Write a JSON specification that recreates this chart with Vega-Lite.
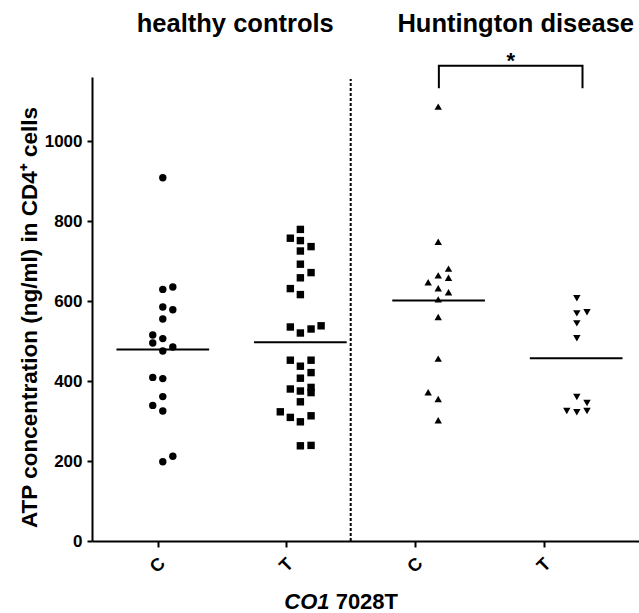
{
  "$schema": "https://vega.github.io/schema/vega-lite/v6.json",
  "width": 547,
  "height": 464,
  "autosize": {"type": "none"},
  "padding": {"left": 92, "top": 77, "right": 0, "bottom": 72},
  "background": "white",
  "config": {"view": {"stroke": null}, "font": "Liberation Sans"},
  "datasets": {
    "points": [
      {"key": "HC-C", "x": 1.040, "value": 908},
      {"key": "HC-C", "x": 1.040, "value": 629},
      {"key": "HC-C", "x": 1.118, "value": 635},
      {"key": "HC-C", "x": 1.040, "value": 585},
      {"key": "HC-C", "x": 1.118, "value": 578},
      {"key": "HC-C", "x": 1.040, "value": 555},
      {"key": "HC-C", "x": 0.962, "value": 515},
      {"key": "HC-C", "x": 1.040, "value": 506},
      {"key": "HC-C", "x": 0.962, "value": 495},
      {"key": "HC-C", "x": 1.040, "value": 475},
      {"key": "HC-C", "x": 1.118, "value": 485},
      {"key": "HC-C", "x": 0.962, "value": 409},
      {"key": "HC-C", "x": 1.040, "value": 406},
      {"key": "HC-C", "x": 1.040, "value": 361},
      {"key": "HC-C", "x": 0.962, "value": 339},
      {"key": "HC-C", "x": 1.040, "value": 325},
      {"key": "HC-C", "x": 1.040, "value": 198},
      {"key": "HC-C", "x": 1.118, "value": 212},
      {"key": "HC-T", "x": 2.109, "value": 779},
      {"key": "HC-T", "x": 2.031, "value": 757},
      {"key": "HC-T", "x": 2.109, "value": 751},
      {"key": "HC-T", "x": 2.109, "value": 725},
      {"key": "HC-T", "x": 2.192, "value": 736},
      {"key": "HC-T", "x": 2.109, "value": 692},
      {"key": "HC-T", "x": 2.109, "value": 658},
      {"key": "HC-T", "x": 2.192, "value": 671},
      {"key": "HC-T", "x": 2.031, "value": 631},
      {"key": "HC-T", "x": 2.109, "value": 616},
      {"key": "HC-T", "x": 2.031, "value": 535},
      {"key": "HC-T", "x": 2.109, "value": 520},
      {"key": "HC-T", "x": 2.192, "value": 530},
      {"key": "HC-T", "x": 2.270, "value": 538},
      {"key": "HC-T", "x": 2.031, "value": 452},
      {"key": "HC-T", "x": 2.109, "value": 437},
      {"key": "HC-T", "x": 2.192, "value": 452},
      {"key": "HC-T", "x": 2.109, "value": 407},
      {"key": "HC-T", "x": 2.192, "value": 421},
      {"key": "HC-T", "x": 2.031, "value": 380},
      {"key": "HC-T", "x": 2.109, "value": 375},
      {"key": "HC-T", "x": 2.192, "value": 384},
      {"key": "HC-T", "x": 2.192, "value": 371},
      {"key": "HC-T", "x": 2.109, "value": 348},
      {"key": "HC-T", "x": 1.953, "value": 323},
      {"key": "HC-T", "x": 2.031, "value": 309},
      {"key": "HC-T", "x": 2.109, "value": 298},
      {"key": "HC-T", "x": 2.192, "value": 313},
      {"key": "HC-T", "x": 2.109, "value": 238},
      {"key": "HC-T", "x": 2.192, "value": 239},
      {"key": "HD-C", "x": 3.180, "value": 1086},
      {"key": "HD-C", "x": 3.180, "value": 748},
      {"key": "HD-C", "x": 3.260, "value": 681},
      {"key": "HD-C", "x": 3.180, "value": 664},
      {"key": "HD-C", "x": 3.260, "value": 658},
      {"key": "HD-C", "x": 3.102, "value": 647},
      {"key": "HD-C", "x": 3.180, "value": 632},
      {"key": "HD-C", "x": 3.260, "value": 622},
      {"key": "HD-C", "x": 3.180, "value": 604},
      {"key": "HD-C", "x": 3.180, "value": 560},
      {"key": "HD-C", "x": 3.180, "value": 456},
      {"key": "HD-C", "x": 3.102, "value": 372},
      {"key": "HD-C", "x": 3.180, "value": 355},
      {"key": "HD-C", "x": 3.180, "value": 302},
      {"key": "HD-T", "x": 4.257, "value": 607},
      {"key": "HD-T", "x": 4.257, "value": 569},
      {"key": "HD-T", "x": 4.336, "value": 572},
      {"key": "HD-T", "x": 4.257, "value": 544},
      {"key": "HD-T", "x": 4.257, "value": 507},
      {"key": "HD-T", "x": 4.257, "value": 360},
      {"key": "HD-T", "x": 4.336, "value": 345},
      {"key": "HD-T", "x": 4.179, "value": 325},
      {"key": "HD-T", "x": 4.257, "value": 322},
      {"key": "HD-T", "x": 4.336, "value": 325}
    ],
    "means": [
      {"key": "HC-C", "center": 1.040, "mean": 479},
      {"key": "HC-T", "center": 2.109, "mean": 497},
      {"key": "HD-C", "center": 3.183, "mean": 601},
      {"key": "HD-T", "center": 4.252, "mean": 457}
    ],
    "bracket": [
      {"order": 1, "x": 3.185, "y": 1132},
      {"order": 2, "x": 3.185, "y": 1188},
      {"order": 3, "x": 4.301, "y": 1188},
      {"order": 4, "x": 4.301, "y": 1132}
    ],
    "headers": [
      {"label": "healthy controls", "x": 1.603, "y": 1273},
      {"label": "Huntington disease", "x": 3.782, "y": 1273}
    ]
  },
  "layer": [
    {
      "data": {"name": "points"},
      "mark": {"type": "point", "filled": true, "color": "black", "opacity": 1, "size": 55},
      "encoding": {
        "x": {
          "field": "x", "type": "quantitative", "title": null,
          "scale": {"domain": [0.49, 4.74], "nice": false, "zero": false},
          "axis": {
            "values": [1, 2, 3, 4],
            "labelExpr": "datum.value == 1 || datum.value == 3 ? 'C' : 'T'",
            "grid": false,
            "labelAngle": -45, "labelAlign": "center", "labelBaseline": "middle",
            "labelPadding": 18, "labelFontSize": 18, "labelFontWeight": "bold",
            "labelColor": "black", "labelFlush": false, "labelOverlap": false,
            "domainColor": "black", "domainWidth": 2,
            "tickColor": "black", "tickWidth": 2, "tickSize": 6
          }
        },
        "y": {
          "field": "value", "type": "quantitative",
          "title": "ATP concentration (ng/ml) in  CD4⁺ cells",
          "scale": {"domain": [0, 1160], "nice": false},
          "axis": {
            "values": [0, 200, 400, 600, 800, 1000],
            "format": "d",
            "titleFontSize": 22.5, "titleFontWeight": "bold", "titleColor": "black",
            "titlePadding": 3, "titleY": 240,
            "grid": false,
            "labelFontSize": 17, "labelFontWeight": "bold", "labelColor": "black",
            "labelPadding": 5, "labelFlush": false,
            "domainColor": "black", "domainWidth": 2,
            "tickColor": "black", "tickWidth": 2, "tickSize": 5
          }
        },
        "shape": {
          "field": "key", "type": "nominal",
          "scale": {"domain": ["HC-C", "HC-T", "HD-C", "HD-T"], "range": ["circle", "square", "triangle-up", "triangle-down"]},
          "legend": null
        }
      }
    },
    {
      "data": {"name": "means"},
      "transform": [
        {"calculate": "datum.center - 0.36", "as": "lo"},
        {"calculate": "datum.center + 0.36", "as": "hi"}
      ],
      "mark": {"type": "rule", "color": "black", "strokeWidth": 2},
      "encoding": {
        "x": {"field": "lo", "type": "quantitative", "title": null},
        "x2": {"field": "hi"},
        "y": {"field": "mean", "type": "quantitative", "title": "ATP concentration (ng/ml) in  CD4⁺ cells"}
      }
    },
    {
      "data": {"values": [{"sep": 2.5, "y0": 0, "y1": 1155}]},
      "mark": {"type": "rule", "color": "black", "strokeWidth": 2, "strokeDash": [3, 2]},
      "encoding": {
        "x": {"field": "sep", "type": "quantitative", "title": null},
        "y": {"field": "y0", "type": "quantitative", "title": "ATP concentration (ng/ml) in  CD4⁺ cells"},
        "y2": {"field": "y1"}
      }
    },
    {
      "data": {"name": "bracket"},
      "mark": {"type": "line", "color": "black", "strokeWidth": 2, "clip": false},
      "encoding": {
        "x": {"field": "x", "type": "quantitative", "title": null},
        "y": {"field": "y", "type": "quantitative", "title": "ATP concentration (ng/ml) in  CD4⁺ cells"},
        "order": {"field": "order"}
      }
    },
    {
      "data": {"values": [{"label": "*", "x": 3.743, "y": 1183}]},
      "mark": {"type": "text", "fontSize": 22, "fontWeight": "bold", "color": "black", "align": "center", "baseline": "alphabetic"},
      "encoding": {
        "x": {"field": "x", "type": "quantitative", "title": null},
        "y": {"field": "y", "type": "quantitative", "title": "ATP concentration (ng/ml) in  CD4⁺ cells"},
        "text": {"field": "label"}
      }
    },
    {
      "data": {"name": "headers"},
      "mark": {"type": "text", "fontSize": 25.5, "fontWeight": "bold", "color": "black", "align": "center", "baseline": "alphabetic"},
      "encoding": {
        "x": {"field": "x", "type": "quantitative", "title": null},
        "y": {"field": "y", "type": "quantitative", "title": "ATP concentration (ng/ml) in  CD4⁺ cells"},
        "text": {"field": "label"}
      }
    },
    {
      "data": {"values": [{"label": "CO1", "x": 2.336, "y": -170}]},
      "mark": {"type": "text", "fontSize": 22, "fontWeight": "bold", "fontStyle": "italic", "color": "black", "align": "right", "baseline": "alphabetic"},
      "encoding": {
        "x": {"field": "x", "type": "quantitative", "title": null},
        "y": {"field": "y", "type": "quantitative", "title": "ATP concentration (ng/ml) in  CD4⁺ cells"},
        "text": {"field": "label"}
      }
    },
    {
      "data": {"values": [{"label": "7028T", "x": 2.383, "y": -170}]},
      "mark": {"type": "text", "fontSize": 22, "fontWeight": "bold", "color": "black", "align": "left", "baseline": "alphabetic"},
      "encoding": {
        "x": {"field": "x", "type": "quantitative", "title": null},
        "y": {"field": "y", "type": "quantitative", "title": "ATP concentration (ng/ml) in  CD4⁺ cells"},
        "text": {"field": "label"}
      }
    }
  ]
}
